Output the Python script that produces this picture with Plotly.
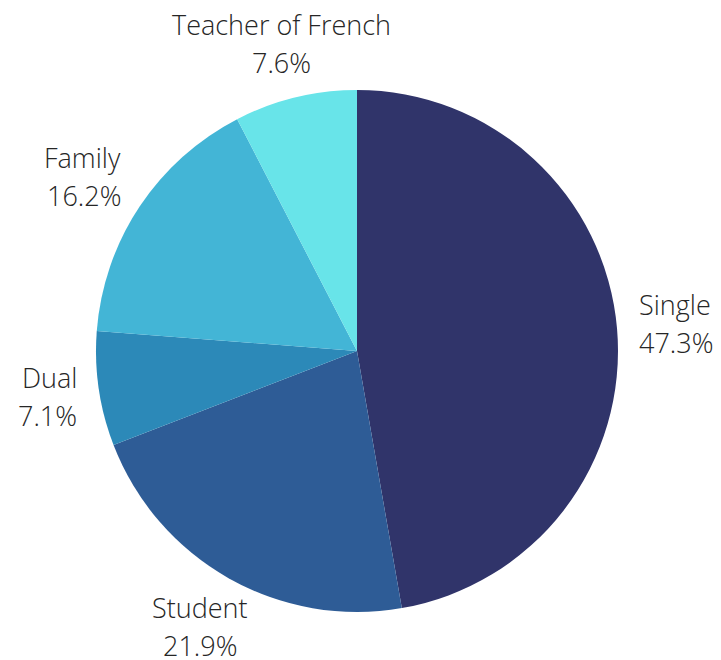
import math
import plotly.graph_objects as go

labels = ["Single", "Student", "Dual", "Family", "Teacher of French"]
values = [47.3, 21.9, 7.1, 16.2, 7.6]
colors = ["#30346A", "#2E5C96", "#2C89B8", "#43B5D6", "#68E4E9"]

W, H = 713, 652                 # page body has an 8px margin
CX, CY, R = 349, 343, 261       # pie centre and radius in px
GAP = 21                        # distance of labels from the rim
LINE = 38                       # spacing between label and percent lines
FONT = dict(family="Open Sans", size=27, color="#262626", weight=300)

fig = go.Figure(
    go.Pie(
        labels=labels,
        values=values,
        sort=False,
        direction="clockwise",
        rotation=0,
        marker=dict(colors=colors, line=dict(width=0)),
        textinfo="none",
        showlegend=False,
        hoverinfo="label+percent",
    )
)

# outside labels, placed around the rim at each slice's mid angle
total = sum(values)
cum = 0
for lab, v in zip(labels, values):
    mid = (cum + v / 2) / total * 2 * math.pi
    cum += v
    dx, dy = math.sin(mid), -math.cos(mid)
    px = CX + (R + GAP) * dx
    py = CY + (R + GAP) * dy + dy * LINE * 0.9
    shift = 0
    if dx > 0.6:
        xanchor = "left"
    elif dx < -0.6:
        xanchor = "right"
    else:
        xanchor = "center"
        shift = dx * 37
    for text, y in [(lab, py - LINE / 2), (f"{v / total * 100:.1f}%", py + LINE / 2)]:
        fig.add_annotation(
            x=(px - (CX - R)) / (2 * R),
            y=1 - (y - (CY - R)) / (2 * R),
            xref="paper",
            yref="paper",
            text=text,
            showarrow=False,
            xanchor=xanchor,
            yanchor="middle",
            xshift=shift,
            borderpad=0,
            font=FONT,
        )

fig.update_layout(
    width=W,
    height=H,
    margin=dict(l=CX - R, r=W - CX - R, t=CY - R, b=H - CY - R, autoexpand=False),
    paper_bgcolor="white",
    font=FONT,
)

fig.write_html("out.html")
